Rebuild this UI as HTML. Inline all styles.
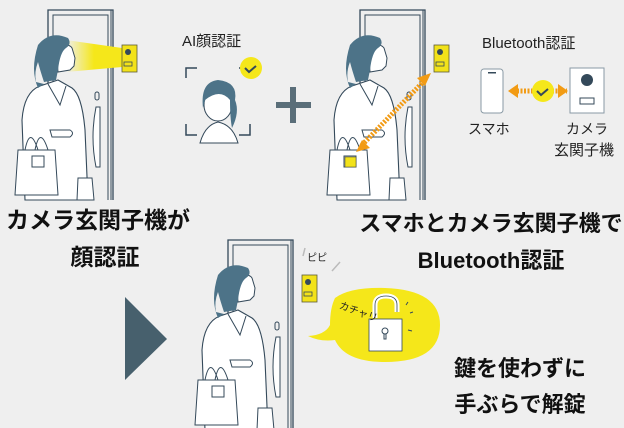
<!DOCTYPE html>
<html><head><meta charset="utf-8"><style>
html,body{margin:0;padding:0;background:#efefef;}
body{width:624px;height:428px;overflow:hidden;position:relative;font-family:"Liberation Sans","Noto Sans CJK JP",sans-serif;}
svg{position:absolute;left:0;top:0;}
.t{position:absolute;font-weight:bold;color:#111;font-size:23px;white-space:nowrap;text-align:center;line-height:1;}
.s{position:absolute;color:#222;font-size:14px;white-space:nowrap;line-height:1;}
</style></head><body>
<svg width="624" height="428" viewBox="0 0 624 428">
<defs>
<g id="door">
 <path d="M48 200 V10 H113 V200" fill="none" stroke="#34495a" stroke-width="1.3"/>
 <path d="M53 200 V15 H108 V200" fill="none" stroke="#34495a" stroke-width="1"/>
 <line x1="111" y1="10" x2="111" y2="200" stroke="#34495a" stroke-width="1"/>
 <rect x="95" y="92" width="4" height="8" rx="2" fill="none" stroke="#34495a"/>
 <path d="M96 107 h4 v60 h-4 q-6 -30 0 -60z" fill="#fff" stroke="#34495a"/>
</g>
<g id="woman">
 <path d="M25 200 L22 120 Q24 92 40 86 L58 80 L72 88 Q82 95 85 130 L88 200 Z" fill="#fff" stroke="#34495a" stroke-width="1.1"/>
 <path d="M48 84 L60 105 L66 86" fill="none" stroke="#34495a"/>
 <path d="M56 48 Q68 42 72 48 L75 58 L74 66 L70 70 L58 72 Z" fill="#fff" stroke="#34495a"/>
 <path d="M38 45 Q50 30 68 38 Q72 44 66 48 Q60 52 58 70 L56 80 L44 82 Q40 70 38 62 Q34 72 36 82 L44 84 L38 88 Q30 70 38 45Z" fill="#4d7388"/>
 <path d="M50 130 H70 Q75 133 70 137 H52Z" fill="#fff" stroke="#34495a"/>
 <path d="M18 150 H55 L58 195 H15Z" fill="#fff" stroke="#34495a"/>
 <path d="M25 150 Q30 125 38 150 M35 150 Q40 125 48 150" fill="none" stroke="#34495a"/>
 <rect x="32" y="156" width="12" height="11" fill="#fff" stroke="#34495a"/>
 <path d="M78 178 H92 L94 200 H77Z" fill="#fff" stroke="#34495a"/>
</g>
<g id="cam"><rect x="122" y="45" width="15" height="27" fill="#f2e21a" stroke="#5a5a3a" stroke-width="0.8"/><circle cx="128" cy="52" r="3" fill="#34495a"/><rect x="124" y="62" width="8" height="4" fill="none" stroke="#34495a" stroke-width="0.8"/></g>
<linearGradient id="cone" x1="0" x2="1"><stop offset="0" stop-color="#f5e71a" stop-opacity="0"/><stop offset="0.5" stop-color="#f5e71a"/></linearGradient>
</defs>
<use href="#door"/>
<polygon points="66,40 122,48 122,67 66,72" fill="url(#cone)"/>
<use href="#woman"/>
<use href="#cam"/>
<path d="M186 78 V68 H197 M239 68 H250 V78 M186 124 V135 H197 M239 135 H250 V124" fill="none" stroke="#34495a" stroke-width="1.5"/>
<path d="M200 143 Q205 125 218 122 Q233 125 238 143Z" fill="#fff" stroke="#34495a"/>
<ellipse cx="218" cy="105" rx="14" ry="16" fill="#fff" stroke="#34495a"/>
<path d="M203 108 Q200 82 218 80 Q238 82 235 100 Q240 112 232 128 Q230 118 230 100 Q220 88 205 100Z" fill="#4d7388"/>
<circle cx="251" cy="68" r="11" fill="#f5e71a"/><path d="M245 68 l4 4 l7 -6" fill="none" stroke="#34495a" stroke-width="2"/>
<rect x="290" y="87" width="6" height="36" fill="#5a6e79"/><rect x="276" y="102" width="35" height="6" fill="#5a6e79"/>
<g transform="translate(312,0)"><use href="#door"/><use href="#woman"/><use href="#cam"/>
<rect x="33" y="157" width="11" height="10" fill="#f2e21a" stroke="#5a5a3a" stroke-width="0.6"/>
<line x1="50" y1="145" x2="113" y2="80" stroke="#f29b14" stroke-width="5" stroke-dasharray="2 1.5"/>
<polygon points="44,152 58,148 50,140" fill="#f29b14"/><polygon points="119,73 105,78 113,86" fill="#f29b14"/>
</g>
<rect x="481" y="69" width="22" height="44" rx="3" fill="#fff" stroke="#8a9aa5"/><rect x="488" y="72" width="8" height="1.5" fill="#34495a"/>
<rect x="570" y="68" width="34" height="45" fill="#fff" stroke="#8a9aa5"/><circle cx="587" cy="80" r="6" fill="#34495a"/><rect x="580" y="98" width="14" height="6" fill="none" stroke="#34495a"/>
<line x1="517" y1="91" x2="567" y2="91" stroke="#f29b14" stroke-width="5" stroke-dasharray="2 1.5"/>
<polygon points="508,91 518,84 518,98" fill="#f29b14"/><polygon points="568,91 558,84 558,98" fill="#f29b14"/>
<circle cx="543" cy="91" r="11" fill="#f5e71a"/><path d="M537 91 l4 4 l7 -6" fill="none" stroke="#34495a" stroke-width="2"/>
<polygon points="125,297 167,339 125,380" fill="#47606d"/>
<g transform="translate(180,230)"><use href="#door"/><use href="#woman"/><use href="#cam"/></g>
<path d="M305 248 l-2 8 M340 262 l-8 9" stroke="#bbb" stroke-width="1.5"/>
<path d="M335 298 Q350 287 385 288 Q440 290 440 325 Q440 362 385 362 Q345 362 335 340 Q320 342 308 336 Q325 335 330 325 Q330 308 335 298Z" fill="#f5e71a"/>
<path d="M375 318 V305 Q375 296 386 296 Q397 296 397 305 V312" fill="none" stroke="#fff" stroke-width="5"/>
<path d="M375 318 V305 Q375 296 386 296 Q397 296 397 305 V312" fill="none" stroke="#34495a" stroke-width="0.8"/>
<rect x="369" y="319" width="33" height="32" fill="#fff" stroke="#34495a" stroke-width="0.8"/>
<circle cx="385" cy="331" r="3" fill="none" stroke="#34495a"/><path d="M384 334 v5 h2 v-5" fill="none" stroke="#34495a"/>
<path d="M406 305 l2 -3 M410 313 l3 -1 M408 330 l4 1" stroke="#34495a"/>
</svg>
<div class="s" style="left:182px;top:34px;font-size:15px;">AI顔認証</div>
<div class="s" style="left:482px;top:36px;font-size:15px;">Bluetooth認証</div>
<div class="s" style="left:468px;top:122px;">スマホ</div>
<div class="s" style="left:566px;top:122px;">カメラ</div>
<div class="s" style="left:554px;top:143px;font-size:15px;">玄関子機</div>
<div class="s" style="left:307px;top:254px;font-size:10px;">ピピ</div>
<div class="s" style="left:338px;top:308px;font-size:10px;transform:rotate(20deg);">カチャリ</div>
<div class="t" style="left:0;width:196px;top:209px;">カメラ玄関子機が</div>
<div class="t" style="left:0;width:210px;top:246px;">顔認証</div>
<div class="t" style="left:358px;width:266px;top:213px;font-size:22px;">スマホとカメラ玄関子機で</div>
<div class="t" style="left:358px;width:266px;top:250px;font-size:22px;">Bluetooth認証</div>
<div class="t" style="left:440px;width:160px;top:358px;font-size:22px;">鍵を使わずに</div>
<div class="t" style="left:440px;width:160px;top:394px;font-size:22px;">手ぶらで解錠</div>
</body></html>
